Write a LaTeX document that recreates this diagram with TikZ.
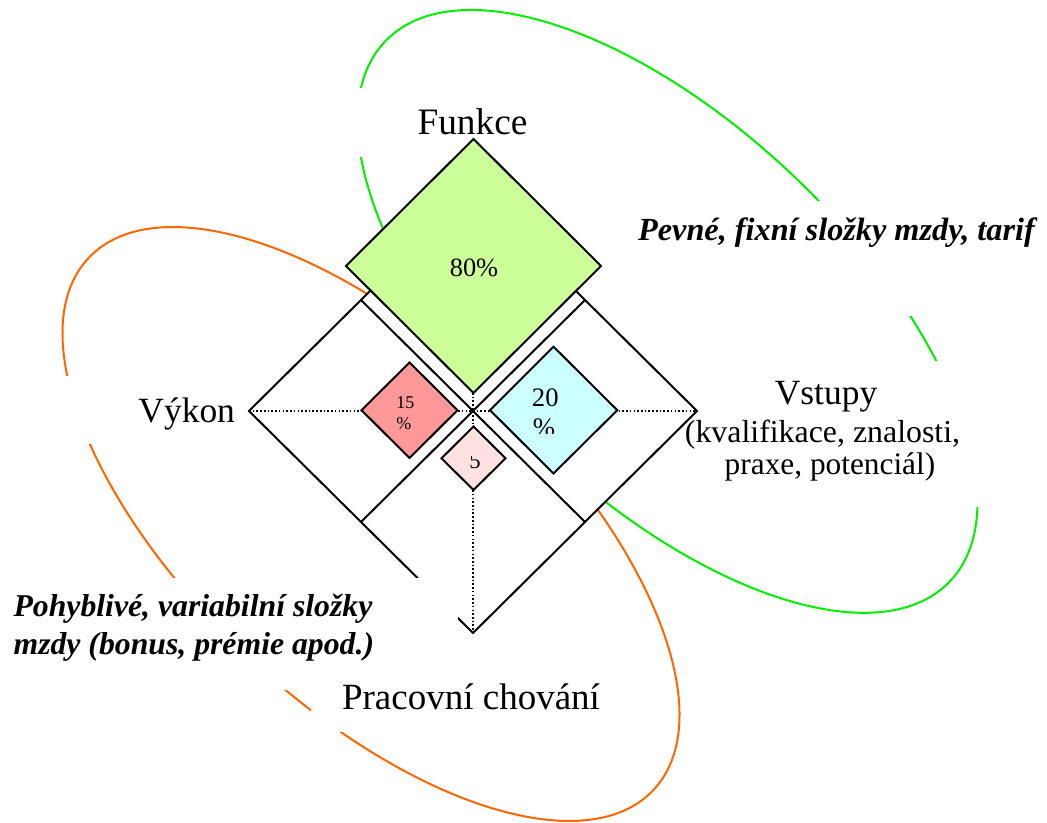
\documentclass[tikz,border=0pt]{standalone}
\usepackage{fontspec}
\setmainfont{Liberation Serif}
\definecolor{ringgreen}{HTML}{00F000}
\definecolor{ringorange}{HTML}{FF6600}
\definecolor{fgreen}{HTML}{CCFF99}
\definecolor{fred}{HTML}{FF9999}
\definecolor{fcyan}{HTML}{CCFFFF}
\definecolor{fpink}{HTML}{FFE1E1}
\begin{document}
\begin{tikzpicture}[x=0.75pt,y=-0.75pt,line join=miter,
  ring/.style={line width=1.5pt},
  cover/.style={fill=white,draw=none},
  frame/.style={draw=black,line width=1.5pt},
  dots/.style={line width=1pt,dash pattern=on 1.2pt off 1.6pt},
  lbl/.style={inner sep=0pt,text=black}]
\useasboundingbox (0,0) rectangle (1047,823);
% rings (rotated ellipses)
\draw[ring,ringgreen,shift={(667.5,311.4)},rotate=-43.74]
  (0,0) ellipse [x radius=390.7, y radius=185];
\draw[ring,ringorange,shift={(371,524)},rotate=-43.3]
  (0,0) ellipse [x radius=388, y radius=181];
% white label boxes
\fill[cover] (345,88) rectangle (600,157);
\fill[cover] (52,376) rectangle (245,444);
\fill[cover] (630,201) rectangle (1045,316);
\fill[cover] (682,361) rectangle (995,507);
\fill[cover] (311,680) rectangle (610,732);
% outer diamond with quarters
\draw[frame,fill=white] (473,189) -- (697,411) -- (473,633) -- (249,411) -- cycle;
\draw[frame] (361,300) -- (585,522);
\draw[frame] (585,300) -- (361,522);
\draw[dots] (249,411) -- (697,411);
\draw[dots] (473,393) -- (473,633);
\fill[cover] (0,578) rectangle (458,690);
% inner diamonds
\draw[frame,fill=fgreen] (473.5,139) -- (601,266) -- (473.5,393) -- (346,266) -- cycle;
\draw[frame,fill=fred] (409.5,362.5) -- (457.5,410.2) -- (409.5,458) -- (361.5,410.2) -- cycle;
\draw[frame,fill=fcyan] (553.5,346.7) -- (617.3,410.2) -- (553.5,473.5) -- (490,410.2) -- cycle;
\draw[frame,fill=fpink] (473.5,426.5) -- (505.5,458.3) -- (473.5,490) -- (441.5,458.3) -- cycle;
% labels
\node[lbl,anchor=base,font={\fontsize{28pt}{30pt}\selectfont}] (funkce) at (472.5,135) {Funkce};
\node[lbl,anchor=base,font={\fontsize{26.6pt}{30pt}\selectfont}] (vykon) at (186.7,422.7) {Výkon};
\node[lbl,anchor=base,font={\fontsize{26.6pt}{30pt}\selectfont}] (vstupy) at (826,405) {Vstupy};
\node[lbl,anchor=base,font={\fontsize{23.9pt}{26pt}\selectfont}] (vstupyb) at (822.5,442.3) {(kvalifikace, znalosti,};
\node[lbl,anchor=base,font={\fontsize{23.5pt}{26pt}\selectfont}] (vstupyc) at (830,475) {praxe, potenciál)};
\node[lbl,anchor=base,font={\fontsize{27.75pt}{30pt}\selectfont}] (chovani) at (471,710) {Pracovní chování};
\node[lbl,anchor=base,font={\fontsize{24.2pt}{26pt}\selectfont\bfseries\itshape}] (pevne) at (836.5,241) {Pevné, fixní složky mzdy, tarif};
\node[lbl,anchor=base west,font={\fontsize{23.8pt}{26pt}\selectfont\bfseries\itshape}] (pohyba) at (13.3,616.7) {Pohyblivé, variabilní složky};
\node[lbl,anchor=base west,font={\fontsize{23.8pt}{26pt}\selectfont\bfseries\itshape}] (pohybb) at (13.3,655) {mzdy (bonus, prémie apod.)};
\node[lbl,anchor=base,font={\fontsize{19.8pt}{22pt}\selectfont}] (p80) at (474,276.7) {80\%};
\node[lbl,anchor=base west,font={\fontsize{13.5pt}{15pt}\selectfont}] (p15a) at (396,409) {15};
\node[lbl,anchor=base west,font={\fontsize{13.5pt}{15pt}\selectfont}] (p15b) at (396,430) {\%};
\node[lbl,anchor=base west,font={\fontsize{20pt}{22pt}\selectfont}] (p20a) at (531.7,406.7) {20};
\begin{scope}
\clip (520,412) rectangle (580,434);
\node[lbl,anchor=base west,font={\fontsize{20pt}{22pt}\selectfont}] (p20b) at (532.7,437) {\%};
\end{scope}
\begin{scope}
\clip (455,457) rectangle (495,490);
\node[lbl,anchor=base,font={\fontsize{17pt}{18pt}\selectfont}] (p5) at (475,469) {5};
\end{scope}
\end{tikzpicture}
\end{document}
